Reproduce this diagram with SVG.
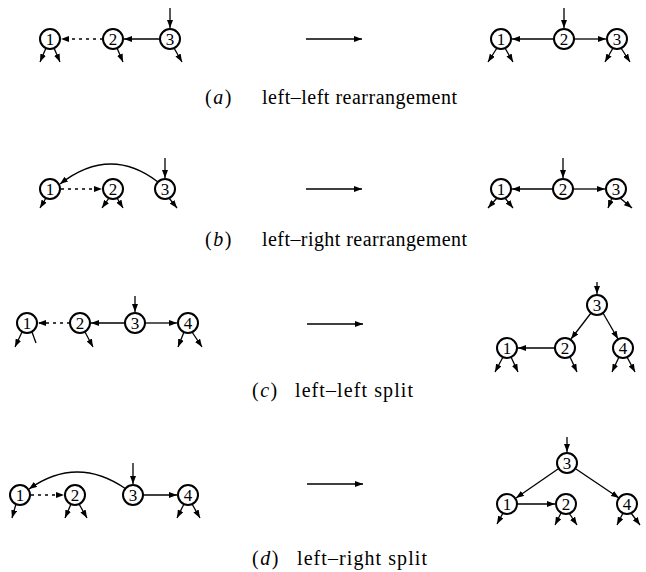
<svg xmlns="http://www.w3.org/2000/svg" width="646" height="572" viewBox="0 0 646 572">
  <style>
    .node circle { fill: #fff; stroke: #000; stroke-width: 2; }
    .node text { font-family: "Liberation Serif", "Times New Roman", serif; font-size: 17px; text-anchor: middle; fill: #000; }
    .edge { stroke: #000; stroke-width: 1.3; fill: none; marker-end: url(#head); }
    .dot { stroke-dasharray: 3 4; }
    .plain { stroke: #000; stroke-width: 1.3; fill: none; }
    .cap { font-family: "Liberation Serif", "Times New Roman", serif; font-size: 20px; fill: #000; }
    .cap .par { letter-spacing: 1.5px; }
    .cap .it { font-style: italic; }
  </style>
  <defs>
    <marker id="head" markerUnits="userSpaceOnUse" markerWidth="9" markerHeight="6" refX="8" refY="3" orient="auto">
      <path d="M0,0 L8,3 L0,6 z" fill="#000"/>
    </marker>
  </defs>

  <!-- connectors -->
  <g id="connectors">
    <!-- (a) left -->
    <line class="edge" x1="170" y1="8" x2="170" y2="28"/>
    <line class="edge dot" x1="103" y1="39" x2="61" y2="39"/>
    <line class="edge" x1="160" y1="39" x2="124" y2="39"/>
    <line class="edge" x1="46" y1="48" x2="40" y2="62"/>
    <line class="edge" x1="54" y1="48" x2="60" y2="62"/>
    <line class="edge" x1="117" y1="48" x2="123" y2="62"/>
    <line class="edge" x1="174" y1="48" x2="182" y2="62"/>
    <!-- (a) transform arrow -->
    <line class="edge" x1="306" y1="39" x2="362" y2="39"/>
    <!-- (a) right -->
    <line class="edge" x1="564" y1="8" x2="564" y2="28"/>
    <line class="edge" x1="554" y1="39" x2="512" y2="39"/>
    <line class="edge" x1="574" y1="39" x2="606" y2="39"/>
    <line class="edge" x1="497" y1="48" x2="488" y2="62"/>
    <line class="edge" x1="505" y1="48" x2="513" y2="62"/>
    <line class="edge" x1="613" y1="48" x2="605" y2="62"/>
    <line class="edge" x1="621" y1="48" x2="630" y2="62"/>

    <!-- (b) left -->
    <line class="edge" x1="165" y1="158" x2="165" y2="178"/>
    <path class="edge" d="M158,182 Q110,145 60,184"/>
    <line class="edge dot" x1="61" y1="189" x2="102" y2="189"/>
    <line class="edge" x1="46" y1="198" x2="40" y2="208"/>
    <line class="edge" x1="109" y1="198" x2="102" y2="208"/>
    <line class="edge" x1="117" y1="198" x2="123" y2="208"/>
    <line class="edge" x1="169" y1="198" x2="177" y2="208"/>
    <!-- (b) transform arrow -->
    <line class="edge" x1="306" y1="189" x2="362" y2="189"/>
    <!-- (b) right -->
    <line class="edge" x1="563" y1="158" x2="563" y2="178"/>
    <line class="edge" x1="553" y1="189" x2="512" y2="189"/>
    <line class="edge" x1="573" y1="189" x2="605" y2="189"/>
    <line class="edge" x1="497" y1="198" x2="488" y2="208"/>
    <line class="edge" x1="505" y1="198" x2="513" y2="208"/>
    <line class="edge" x1="612" y1="198" x2="608" y2="208"/>
    <line class="edge" x1="620" y1="198" x2="632" y2="208"/>

    <!-- (c) left -->
    <line class="edge" x1="135" y1="296" x2="135" y2="312"/>
    <line class="edge dot" x1="70" y1="323" x2="38" y2="323"/>
    <line class="edge" x1="125" y1="323" x2="91" y2="323"/>
    <line class="edge" x1="145" y1="323" x2="177" y2="323"/>
    <line class="edge" x1="22" y1="332" x2="15" y2="347"/>
    <line class="plain" x1="32" y1="332" x2="36" y2="343"/>
    <line class="edge" x1="85" y1="332" x2="93" y2="347"/>
    <line class="edge" x1="184" y1="332" x2="178" y2="347"/>
    <line class="edge" x1="192" y1="332" x2="202" y2="347"/>
    <!-- (c) transform arrow -->
    <line class="edge" x1="307" y1="324" x2="363" y2="324"/>
    <!-- (c) right -->
    <line class="edge" x1="597" y1="282" x2="597" y2="294"/>
    <line class="edge" x1="591" y1="313" x2="571" y2="339"/>
    <line class="edge" x1="603" y1="313" x2="618" y2="339"/>
    <line class="edge" x1="555" y1="348" x2="518" y2="348"/>
    <line class="edge" x1="503" y1="357" x2="495" y2="372"/>
    <line class="edge" x1="511" y1="357" x2="518" y2="372"/>
    <line class="edge" x1="570" y1="357" x2="577" y2="372"/>
    <line class="edge" x1="619" y1="357" x2="612" y2="372"/>
    <line class="edge" x1="627" y1="357" x2="635" y2="372"/>

    <!-- (d) left -->
    <line class="edge" x1="133" y1="463" x2="133" y2="484"/>
    <path class="edge" d="M126,489 Q77,455 29,489"/>
    <line class="edge dot" x1="31" y1="495" x2="64" y2="495"/>
    <line class="edge" x1="143" y1="495" x2="177" y2="495"/>
    <line class="edge" x1="16" y1="504" x2="12" y2="518"/>
    <line class="edge" x1="71" y1="504" x2="65" y2="518"/>
    <line class="edge" x1="79" y1="504" x2="87" y2="518"/>
    <line class="edge" x1="184" y1="504" x2="177" y2="518"/>
    <line class="edge" x1="192" y1="504" x2="200" y2="518"/>
    <!-- (d) transform arrow -->
    <line class="edge" x1="307" y1="484" x2="363" y2="484"/>
    <!-- (d) right -->
    <line class="edge" x1="567" y1="437" x2="567" y2="452"/>
    <line class="edge" x1="558" y1="469" x2="516" y2="498"/>
    <line class="edge" x1="576" y1="469" x2="619" y2="498"/>
    <line class="edge" x1="517" y1="504" x2="555" y2="504"/>
    <line class="edge" x1="503" y1="513" x2="497" y2="524"/>
    <line class="edge" x1="561" y1="513" x2="555" y2="525"/>
    <line class="edge" x1="569" y1="513" x2="577" y2="525"/>
    <line class="edge" x1="623" y1="513" x2="617" y2="525"/>
    <line class="edge" x1="631" y1="513" x2="640" y2="525"/>
  </g>

  <!-- (a) nodes -->
  <g id="a-l1" class="node"><circle cx="50" cy="39" r="10"/><text x="50" y="45">1</text></g>
  <g id="a-l2" class="node"><circle cx="113" cy="39" r="10"/><text x="113" y="45">2</text></g>
  <g id="a-l3" class="node"><circle cx="170" cy="39" r="10"/><text x="170" y="45">3</text></g>
  <g id="a-r1" class="node"><circle cx="501" cy="39" r="10"/><text x="501" y="45">1</text></g>
  <g id="a-r2" class="node"><circle cx="564" cy="39" r="10"/><text x="564" y="45">2</text></g>
  <g id="a-r3" class="node"><circle cx="617" cy="39" r="10"/><text x="617" y="45">3</text></g>

  <!-- (b) nodes -->
  <g id="b-l1" class="node"><circle cx="50" cy="189" r="10"/><text x="50" y="195">1</text></g>
  <g id="b-l2" class="node"><circle cx="113" cy="189" r="10"/><text x="113" y="195">2</text></g>
  <g id="b-l3" class="node"><circle cx="165" cy="189" r="10"/><text x="165" y="195">3</text></g>
  <g id="b-r1" class="node"><circle cx="501" cy="189" r="10"/><text x="501" y="195">1</text></g>
  <g id="b-r2" class="node"><circle cx="563" cy="189" r="10"/><text x="563" y="195">2</text></g>
  <g id="b-r3" class="node"><circle cx="616" cy="189" r="10"/><text x="616" y="195">3</text></g>

  <!-- (c) nodes -->
  <g id="c-l1" class="node"><circle cx="27" cy="323" r="10"/><text x="27" y="329">1</text></g>
  <g id="c-l2" class="node"><circle cx="80" cy="323" r="10"/><text x="80" y="329">2</text></g>
  <g id="c-l3" class="node"><circle cx="135" cy="323" r="10"/><text x="135" y="329">3</text></g>
  <g id="c-l4" class="node"><circle cx="188" cy="323" r="10"/><text x="188" y="329">4</text></g>
  <g id="c-r3" class="node"><circle cx="597" cy="305" r="10"/><text x="597" y="311">3</text></g>
  <g id="c-r1" class="node"><circle cx="507" cy="348" r="10"/><text x="507" y="354">1</text></g>
  <g id="c-r2" class="node"><circle cx="565" cy="348" r="10"/><text x="565" y="354">2</text></g>
  <g id="c-r4" class="node"><circle cx="623" cy="348" r="10"/><text x="623" y="354">4</text></g>

  <!-- (d) nodes -->
  <g id="d-l1" class="node"><circle cx="20" cy="495" r="10"/><text x="20" y="501">1</text></g>
  <g id="d-l2" class="node"><circle cx="75" cy="495" r="10"/><text x="75" y="501">2</text></g>
  <g id="d-l3" class="node"><circle cx="133" cy="495" r="10"/><text x="133" y="501">3</text></g>
  <g id="d-l4" class="node"><circle cx="188" cy="495" r="10"/><text x="188" y="501">4</text></g>
  <g id="d-r3" class="node"><circle cx="567" cy="463" r="10"/><text x="567" y="469">3</text></g>
  <g id="d-r1" class="node"><circle cx="507" cy="504" r="10"/><text x="507" y="510">1</text></g>
  <g id="d-r2" class="node"><circle cx="566" cy="504" r="10"/><text x="566" y="510">2</text></g>
  <g id="d-r4" class="node"><circle cx="627" cy="504" r="10"/><text x="627" y="510">4</text></g>

  <!-- captions -->
  <g id="captions" class="cap">
    <text class="par" x="205" y="104">(<tspan class="it">a</tspan>)</text>
    <text x="262" y="104" textLength="195" lengthAdjust="spacing">left–left rearrangement</text>
    <text class="par" x="205" y="246">(<tspan class="it">b</tspan>)</text>
    <text x="262" y="246" textLength="205" lengthAdjust="spacing">left–right rearrangement</text>
    <text class="par" x="252" y="397">(<tspan class="it">c</tspan>)</text>
    <text x="295" y="397" textLength="118" lengthAdjust="spacing">left–left split</text>
    <text class="par" x="252" y="565">(<tspan class="it">d</tspan>)</text>
    <text x="297" y="565" textLength="130" lengthAdjust="spacing">left–right split</text>
  </g>
</svg>
